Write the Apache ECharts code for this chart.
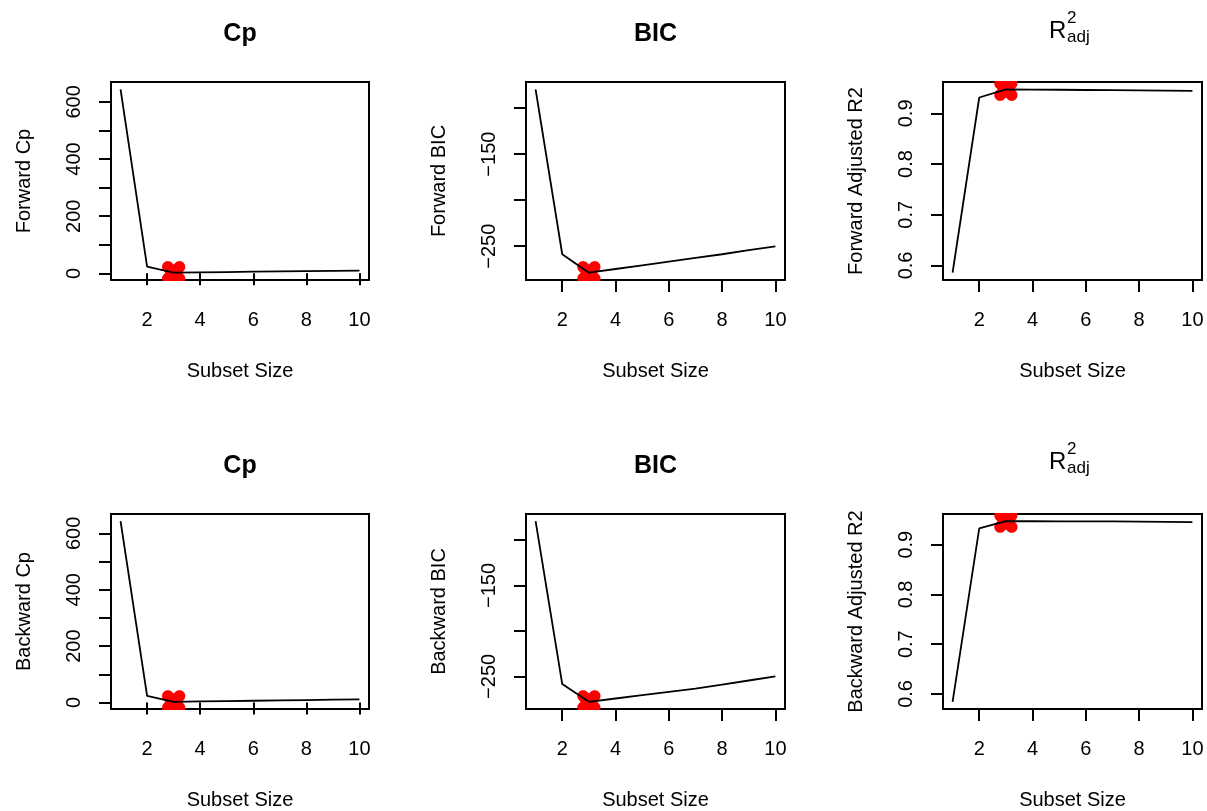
<!DOCTYPE html>
<html>
<head>
<meta charset="utf-8">
<script src="https://cdn.jsdelivr.net/npm/echarts@6/dist/echarts.min.js"></script>
<style>
  html, body { margin: 0; padding: 0; background: #fff; }
  #main { width: 1207px; height: 811px; }
</style>
</head>
<body>
<div id="main"></div>
<script>
// subset sizes (x)
var subsetSize = [1, 2, 3, 4, 5, 6, 7, 8, 9, 10];

// forward selection
var fwdCp  = [644, 23.5, 2.4, 3.4, 4.6, 5.7, 6.8, 7.9, 8.9, 9.8];
var fwdBIC = [-79.6, -258.8, -278.8, -274.8, -270.8, -266.8, -262.8, -258.8, -254.2, -250.2];
var fwdR2  = [0.5857, 0.9314, 0.9475, 0.9471, 0.9467, 0.9462, 0.9458, 0.9453, 0.9449, 0.9444];

// backward selection
var bwdCp  = [643, 23.4, 2.4, 3.6, 4.8, 6.0, 7.2, 8.4, 9.8, 11.2];
var bwdBIC = [-79.4, -258.4, -277.9, -274.3, -270.7, -267.1, -263.5, -259.0, -254.5, -250.0];
var bwdR2  = [0.5843, 0.9327, 0.9471, 0.9470, 0.9469, 0.9468, 0.9467, 0.9463, 0.9458, 0.9453];

// ticks and labels
var xTicks = [2, 4, 6, 8, 10];
var cpTicks = [0, 100, 200, 300, 400, 500, 600];
var cpLabels = [0, 200, 400, 600];
var bicTicks = [-250, -200, -150, -100];
var bicLabels = [-250, -150];
var r2Ticks = [0.6, 0.7, 0.8, 0.9];
var r2Labels = [0.6, 0.7, 0.8, 0.9];

var FONT = '"Liberation Sans", Arial, sans-serif';

var panels = [
  { title: 'Cp',  ylab: 'Forward Cp',           y: fwdCp,  ticks: cpTicks,  labels: cpLabels,  best: 'min' },
  { title: 'BIC', ylab: 'Forward BIC',          y: fwdBIC, ticks: bicTicks, labels: bicLabels, best: 'min' },
  { title: 'R2',  ylab: 'Forward Adjusted R2',  y: fwdR2,  ticks: r2Ticks,  labels: r2Labels,  best: 'max' },
  { title: 'Cp',  ylab: 'Backward Cp',          y: bwdCp,  ticks: cpTicks,  labels: cpLabels,  best: 'min' },
  { title: 'BIC', ylab: 'Backward BIC',         y: bwdBIC, ticks: bicTicks, labels: bicLabels, best: 'min' },
  { title: 'R2',  ylab: 'Backward Adjusted R2', y: bwdR2,  ticks: r2Ticks,  labels: r2Labels,  best: 'max' }
];

var lefts = [111, 526, 943];
var widths = [258, 259, 259];
var tops = [82, 514];
var plotH = 198;

// R style range: data range padded by 4%
function padRange(arr) {
  var lo = Math.min.apply(null, arr), hi = Math.max.apply(null, arr);
  var d = (hi - lo) * 0.04;
  return [lo - d, hi + d];
}

// distance from point to segment (-a..a along unit u)
function segDist(px, py, ux, uy, a) {
  var t = Math.max(-a, Math.min(a, px * ux + py * uy));
  var dx = px - t * ux, dy = py - t * uy;
  return Math.sqrt(dx * dx + dy * dy);
}

// outline of a thick "x" (R pch 4, heavy lwd), as offsets from the centre
var ARM = 8.2, HALF_W = 5.8;
var crossOutline = (function () {
  var pts = [], s = Math.SQRT1_2;
  for (var k = 0; k < 96; k++) {
    var th = k / 96 * Math.PI * 2, vx = Math.cos(th), vy = Math.sin(th);
    var lo = 0, hi = ARM + HALF_W + 1;
    for (var it = 0; it < 30; it++) {
      var m = (lo + hi) / 2, px = m * vx, py = m * vy;
      var inside = segDist(px, py, s, s, ARM) <= HALF_W || segDist(px, py, s, -s, ARM) <= HALF_W;
      if (inside) lo = m; else hi = m;
    }
    pts.push([lo * vx, lo * vy]);
  }
  return pts;
})();

// marker drawn as a polygon, clamped to the plot box like R clips points
function crossMarker(params, api) {
  var c = api.coord([api.value(0), api.value(1)]);
  var cs = params.coordSys;
  var y0 = cs.y - 1, y1 = cs.y + cs.height + 1;
  var pts = crossOutline.map(function (o) {
    return [c[0] + o[0], Math.max(y0, Math.min(y1, c[1] + o[1]))];
  });
  return {
    type: 'polygon',
    shape: { points: pts },
    style: { fill: '#ff0000', stroke: null }
  };
}

var grid = [], xAxis = [], yAxis = [], series = [], title = [], graphic = [];
var xr = padRange(subsetSize);

panels.forEach(function (p, i) {
  var col = i % 3, row = Math.floor(i / 3);
  var yr = padRange(p.y);
  grid.push({
    left: lefts[col], top: tops[row], width: widths[col], height: plotH,
    show: true, borderColor: '#000', borderWidth: 2, backgroundColor: 'transparent'
  });
  xAxis.push({
    type: 'value', gridIndex: i, min: xr[0], max: xr[1],
    name: 'Subset Size', nameLocation: 'middle', nameGap: 81,
    nameTextStyle: { fontFamily: FONT, fontSize: 20, color: '#000' },
    axisLine: { show: false },
    splitLine: { show: false },
    axisTick: { show: true, length: 12, customValues: xTicks, lineStyle: { color: '#000', width: 2 } },
    axisLabel: { customValues: xTicks, margin: 30, fontFamily: FONT, fontSize: 20, color: '#000' }
  });
  yAxis.push({
    type: 'value', gridIndex: i, min: yr[0], max: yr[1],
    name: p.ylab, nameLocation: 'middle', nameGap: 77, nameRotate: 90,
    nameTextStyle: { fontFamily: FONT, fontSize: 20, color: '#000' },
    axisLine: { show: false },
    splitLine: { show: false },
    axisTick: { show: true, length: 12, customValues: p.ticks, lineStyle: { color: '#000', width: 2 } },
    axisLabel: {
      customValues: p.labels, rotate: 90, margin: 27,
      fontFamily: FONT, fontSize: 20, color: '#000',
      formatter: function (v) { return String(v).replace('-', '\u2212'); }
    }
  });

  var lineData = subsetSize.map(function (x, k) { return [x, p.y[k]]; });
  series.push({
    type: 'line', xAxisIndex: i, yAxisIndex: i, data: lineData,
    symbol: 'none', silent: true, animation: false,
    lineStyle: { color: '#000', width: 1.8 }
  });

  var bestVal = p.best === 'min' ? Math.min.apply(null, p.y) : Math.max.apply(null, p.y);
  var bestIdx = p.y.indexOf(bestVal);
  series.push({
    type: 'custom', xAxisIndex: i, yAxisIndex: i, clip: false, animation: false, silent: true,
    data: [[subsetSize[bestIdx], bestVal]],
    renderItem: crossMarker
  });

  var cx = lefts[col] + widths[col] / 2;
  if (p.title === 'R2') {
    var dy = row * 431;
    graphic.push(
      { type: 'text', style: { text: 'R', x: 1049, y: 31 + dy, fill: '#000', fontSize: 24, fontFamily: FONT, align: 'left', verticalAlign: 'middle' } },
      { type: 'text', style: { text: '2', x: 1067, y: 18 + dy, fill: '#000', fontSize: 17, fontFamily: FONT, align: 'left', verticalAlign: 'middle' } },
      { type: 'text', style: { text: 'adj', x: 1067, y: 37.5 + dy, fill: '#000', fontSize: 17, fontFamily: FONT, align: 'left', verticalAlign: 'middle' } }
    );
  } else {
    title.push({
      text: p.title, left: cx, top: 22 + row * 432, textAlign: 'center', padding: 0,
      textStyle: { fontFamily: FONT, fontSize: 25, fontWeight: 'bold', color: '#000', lineHeight: 25 }
    });
  }
});

var myChart = echarts.init(document.getElementById('main'));
myChart.setOption({
  animation: false,
  title: title,
  grid: grid,
  xAxis: xAxis,
  yAxis: yAxis,
  series: series,
  graphic: graphic
});
</script>
</body>
</html>
